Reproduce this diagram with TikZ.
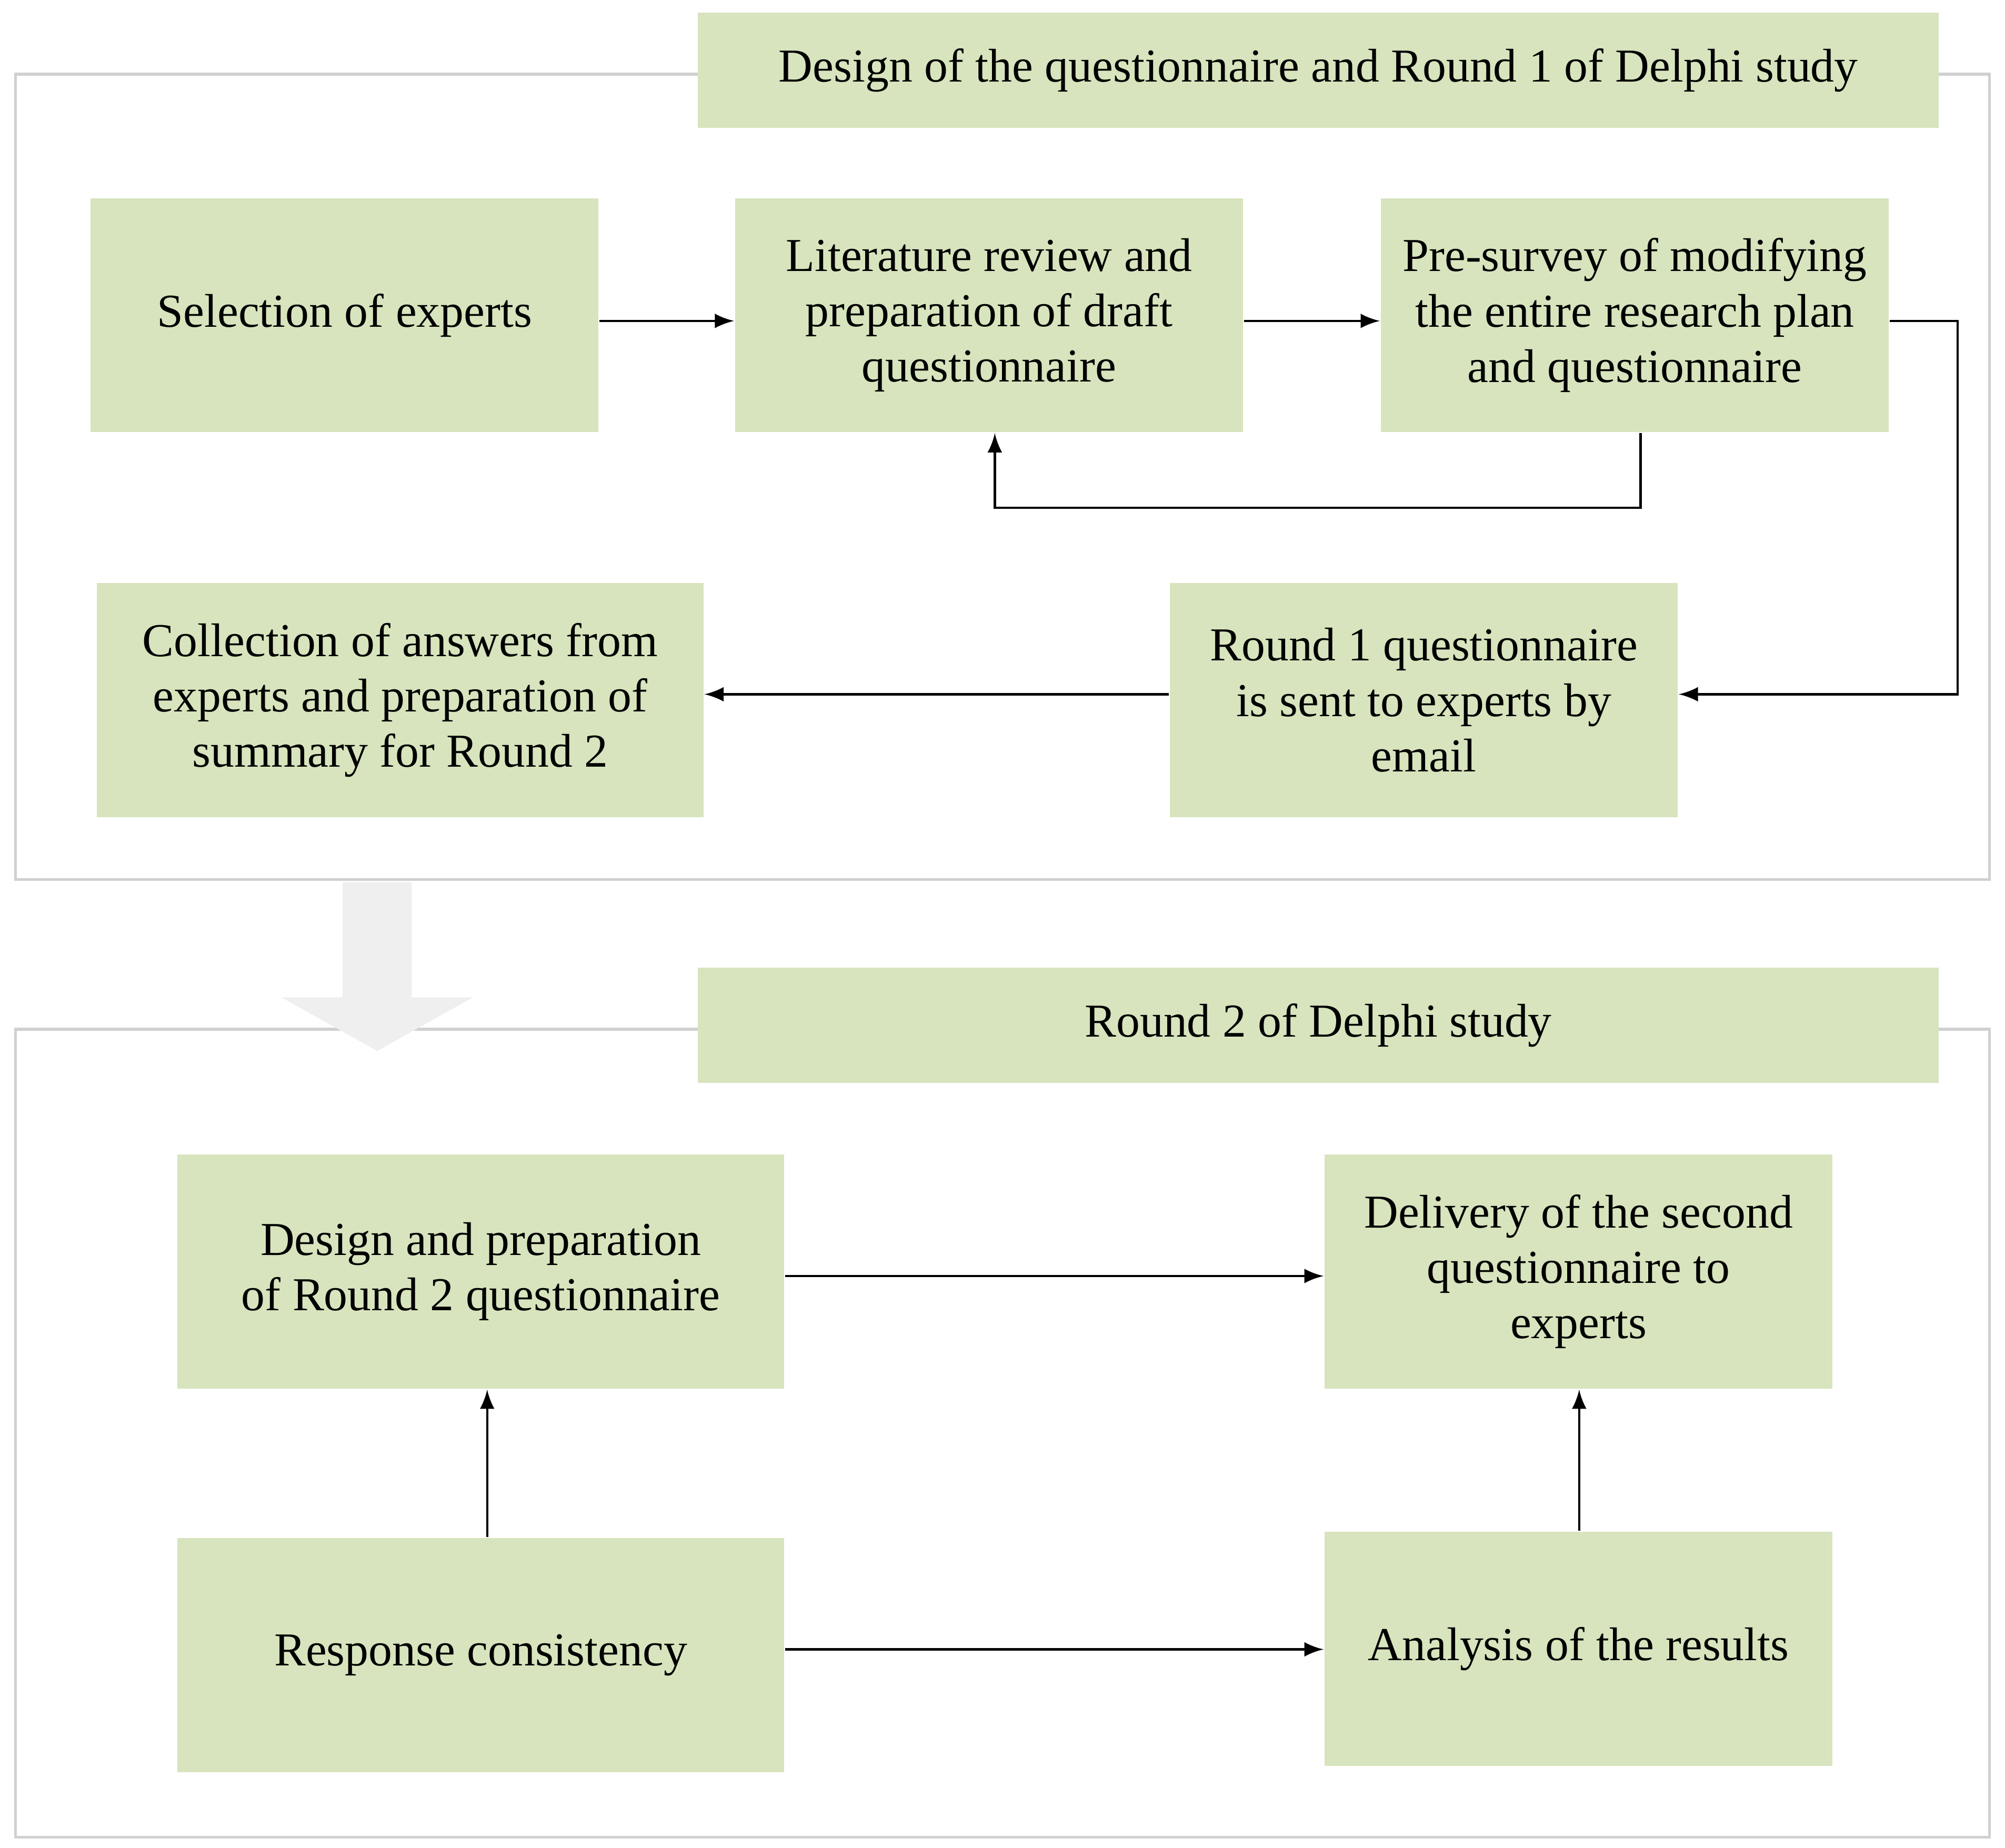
\documentclass[tikz,border=0pt]{standalone}
\usepackage{fontspec}
\setmainfont{Liberation Serif}
\definecolor{boxg}{HTML}{D7E4BD}
\definecolor{frameg}{HTML}{D0D0D0}
\definecolor{bigarr}{HTML}{EFEFEF}
\begin{document}
\begin{tikzpicture}[x=0.01cm,y=-0.01cm,
  gbox/.style={fill=boxg,draw=none,align=center,font=\fontsize{10.5}{12.3}\selectfont},
  conn/.style={-latex,line width=0.5pt,>=latex}]
\useasboundingbox (0,0) rectangle (1568,1445);
\fill[white] (0,0) rectangle (1568,1445);
% frames
\draw[frameg,line width=0.6pt] (12,58) rectangle (1556,688);
\draw[frameg,line width=0.6pt] (12,805) rectangle (1556,1437);
% big arrow
\fill[bigarr] (268,690) -- (322,690) -- (322,780) -- (370,780) -- (295,822) -- (220,780) -- (268,780) -- cycle;
% titles
\node[gbox,minimum width=9.7cm,minimum height=0.9cm] (t1) at (1031,55) {Design of the questionnaire and Round 1 of Delphi study};
\node[gbox,minimum width=9.7cm,minimum height=0.9cm] (t2) at (1031,802) {Round 2 of Delphi study};
% boxes
\node[gbox,minimum width=3.97cm,minimum height=1.83cm] (sel) at (269.5,246.5) {Selection of experts};
\node[gbox,minimum width=3.97cm,minimum height=1.83cm] (lit) at (773.5,246.5) {Literature review and\\preparation of draft\\questionnaire};
\node[gbox,minimum width=3.97cm,minimum height=1.83cm] (pre) at (1278.5,246.5) {Pre-survey of modifying\\the entire research plan\\and questionnaire};
\node[gbox,minimum width=4.74cm,minimum height=1.83cm] (col) at (313,547.5) {Collection of answers from\\experts and preparation of\\summary for Round 2};
\node[gbox,minimum width=3.97cm,minimum height=1.83cm] (r1) at (1113.5,547.5) {Round 1 questionnaire\\is sent to experts by\\email};
\node[gbox,minimum width=4.74cm,minimum height=1.83cm] (des) at (376,994.5) {Design and preparation\\of Round 2 questionnaire};
\node[gbox,minimum width=3.97cm,minimum height=1.83cm] (del) at (1234.5,994.5) {Delivery of the second\\questionnaire to\\experts};
\node[gbox,minimum width=4.74cm,minimum height=1.83cm] (res) at (376,1294.5) {Response consistency};
\node[gbox,minimum width=3.97cm,minimum height=1.83cm] (ana) at (1234.5,1289.5) {Analysis of the results};
% connectors
\draw[conn] (sel.east |- 0,251) -- (lit.west |- 0,251);
\draw[conn] (lit.east |- 0,251) -- (pre.west |- 0,251);
\draw[conn] (pre.east |- 0,251) -- (1531,251) -- (1531,543) -- (r1.east |- 0,543);
\draw[conn] (pre.south -| 1283,0) -- (1283,397) -- (778,397) -- (lit.south -| 778,0);
\draw[conn] (r1.west |- 0,543) -- (col.east |- 0,543);
\draw[conn] (des.east |- 0,998) -- (del.west |- 0,998);
\draw[conn] (res.east |- 0,1290) -- (ana.west |- 0,1290);
\draw[conn] (res.north -| 381,0) -- (des.south -| 381,0);
\draw[conn] (ana.north -| 1235,0) -- (del.south -| 1235,0);
\end{tikzpicture}
\end{document}
